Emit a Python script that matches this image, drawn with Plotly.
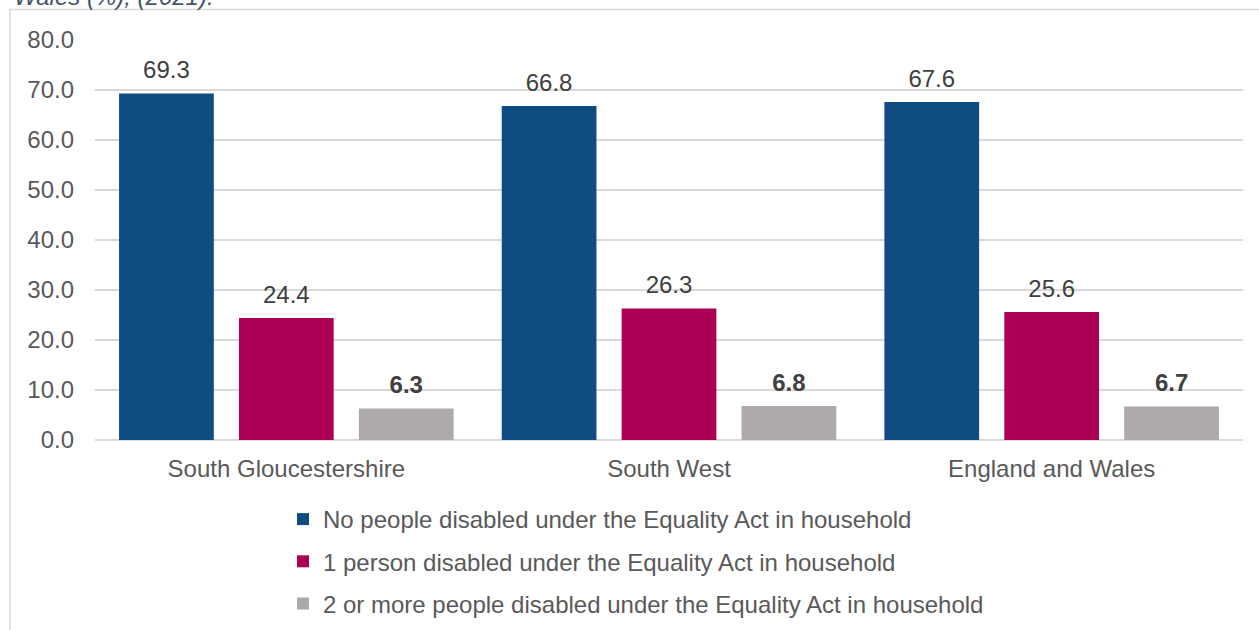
import plotly.graph_objects as go

categories = ["South Gloucestershire", "South West", "England and Wales"]
series_names = [
    "No people disabled under the Equality Act in household",
    "1 person disabled under the Equality Act in household",
    "2 or more people disabled under the Equality Act in household",
]
no_people = [69.3, 66.8, 67.6]
one_person = [24.4, 26.3, 25.6]
two_or_more = [6.3, 6.8, 6.7]
y_ticks = [0, 10, 20, 30, 40, 50, 60, 70, 80]

colors = ["#0F4C81", "#AC0054", "#AEAAAA"]
series = [no_people, one_person, two_or_more]
label_bold = [False, False, True]

W, H = 1259, 630
L, R, T, B = 95, 1243, 40, 440  # plot area pixel edges
pw, ph = R - L, B - T

def px_x(p):
    return (p - L) / pw

def px_y(p):
    return (B - p) / ph

FONT = "Liberation Sans, Arial, sans-serif"

fig = go.Figure()
for i, (name, vals) in enumerate(zip(series_names, series)):
    fig.add_trace(go.Bar(
        x=categories, y=vals, name=name,
        marker=dict(color=colors[i], line=dict(width=0)),
        offsetgroup=str(i), legendgroup=str(i),
        hoverinfo="skip",
    ))
for i, vals in enumerate(series):
    txt = [("<b>%.1f</b>" if label_bold[i] else "%.1f") % v for v in vals]
    fig.add_trace(go.Scatter(
        x=categories, y=vals, mode="text+markers", text=txt,
        textposition="top center", offsetgroup=str(i),
        marker=dict(size=13, opacity=0, color=colors[i]),
        textfont=dict(size=24, color="#404040", family=FONT),
        showlegend=False, hoverinfo="skip", cliponaxis=False,
    ))

fig.update_layout(
    width=W, height=H,
    margin=dict(l=L, r=W - R, t=T, b=H - B, pad=0, autoexpand=False),
    paper_bgcolor="white", plot_bgcolor="white",
    barmode="group", bargap=0.06, bargroupgap=0.21,
    scattermode="group", scattergap=0.06,
    font=dict(family=FONT, size=24, color="#595959"),
    showlegend=True,
    legend=dict(
        orientation="v", x=px_x(283), y=px_y(497), xanchor="left", yanchor="top",
        font=dict(size=24, color="#595959", family=FONT),
        tracegroupgap=8, itemclick=False, bgcolor="rgba(0,0,0,0)",
    ),
    xaxis=dict(
        showgrid=False, showline=False, ticks="", zeroline=False,
        tickfont=dict(size=24, color="#595959"), ticklabelstandoff=12,
    ),
    yaxis=dict(
        range=[0, 80], tickvals=y_ticks, tickformat=".1f",
        showgrid=True, gridcolor="#D9D9D9", gridwidth=1.5,
        zeroline=True, zerolinecolor="#D9D9D9", zerolinewidth=1.5,
        showline=False, ticks="", tickfont=dict(size=24, color="#595959"),
        ticklabelstandoff=20,
    ),
    shapes=[dict(
        type="rect", xref="paper", yref="paper",
        x0=px_x(10), x1=px_x(1265), y0=px_y(660), y1=px_y(9.5),
        line=dict(color="#D9D9D9", width=1.5), fillcolor="rgba(0,0,0,0)", layer="below",
    )],
    annotations=[dict(
        text="<i>Wales (%), (2021).</i>", xref="paper", yref="paper",
        x=px_x(12), y=px_y(12), xanchor="left", yanchor="bottom", showarrow=False,
        font=dict(size=24, color="#44546A", family=FONT),
    )],
)

fig.write_html(
    "out.html",
    config={"displayModeBar": False},
    post_script="document.body.style.margin='0';document.body.style.overflow='hidden';",
)
